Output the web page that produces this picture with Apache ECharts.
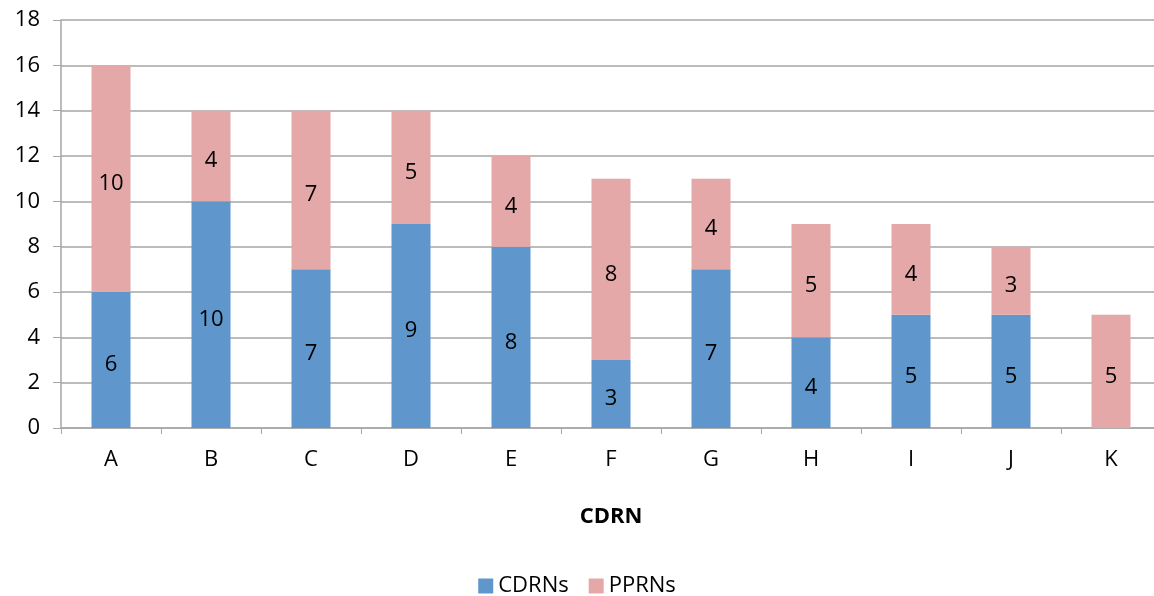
<!DOCTYPE html>
<html>
<head>
<meta charset="utf-8">
<script src="https://cdn.jsdelivr.net/npm/echarts@6/dist/echarts.min.js"></script>
<style>
  html, body { margin: 0; padding: 0; background: #fff; overflow: hidden; }
  #chart { width: 1154px; height: 596px; }
</style>
</head>
<body>
<div id="chart"></div>
<script>
var categories = ['A', 'B', 'C', 'D', 'E', 'F', 'G', 'H', 'I', 'J', 'K'];
var cdrns = [6, 10, 7, 9, 8, 3, 7, 4, 5, 5, 0];
var pprns = [10, 4, 7, 5, 4, 8, 4, 5, 4, 3, 5];

var font = '"Open Sans", "Liberation Sans", sans-serif';

function barLabel() {
    return {
        show: true,
        position: 'inside',
        offset: [0, 5],
        color: '#000',
        fontSize: 22,
        fontFamily: font,
        formatter: function (p) { return p.value ? p.value : ''; }
    };
}

var chart = echarts.init(document.getElementById('chart'));
chart.setOption({
    animation: false,
    textStyle: { fontFamily: font },
    grid: {
        left: 61, width: 1100, top: 20, bottom: 168,
        containLabel: false, outerBoundsMode: 'none'
    },
    legend: {
        top: 570,
        left: 'center',
        itemWidth: 15,
        itemHeight: 15,
        itemGap: 20,
        icon: 'rect',
        textStyle: { fontSize: 22, color: '#000', fontFamily: font },
        data: ['CDRNs', 'PPRNs']
    },
    xAxis: {
        type: 'category',
        data: categories,
        name: 'CDRN',
        nameLocation: 'middle',
        nameGap: 78,
        nameTextStyle: { fontSize: 22, fontWeight: 'bold', color: '#000' },
        axisLine: { lineStyle: { color: '#a6a6a6', width: 1.5 } },
        axisTick: { show: true, length: 6, lineStyle: { color: '#a6a6a6' } },
        axisLabel: { fontSize: 22, color: '#000', margin: 21 }
    },
    yAxis: {
        type: 'value',
        min: 0,
        max: 18,
        interval: 2,
        axisLine: { show: true, lineStyle: { color: '#a6a6a6', width: 1.5 } },
        axisTick: { show: true, length: 8, lineStyle: { color: '#a6a6a6' } },
        axisLabel: { fontSize: 22, color: '#000', margin: 21 },
        splitLine: { lineStyle: { color: '#a6a6a6', width: 1.5 } }
    },
    series: [
        {
            name: 'CDRNs',
            type: 'bar',
            stack: 'total',
            barWidth: 39,
            data: cdrns,
            itemStyle: { color: '#5f96cb' },
            label: barLabel()
        },
        {
            name: 'PPRNs',
            type: 'bar',
            stack: 'total',
            barWidth: 39,
            data: pprns,
            itemStyle: { color: '#e3a8a7' },
            label: barLabel()
        }
    ]
});
</script>
</body>
</html>
